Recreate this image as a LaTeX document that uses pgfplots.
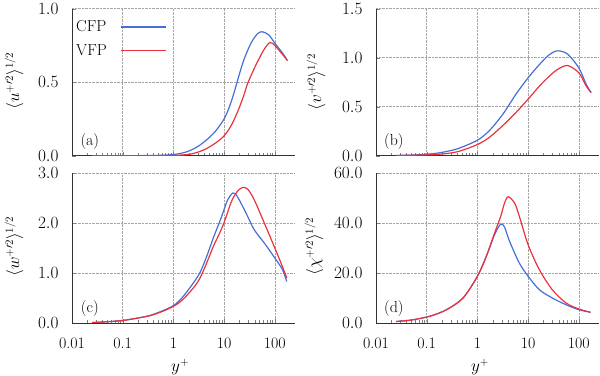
\documentclass[border=0pt]{standalone}
\usepackage{pgfplots}
\pgfplotsset{compat=1.18}
\definecolor{cfp}{RGB}{70,110,215}
\definecolor{vfp}{RGB}{235,50,60}
\newcommand{\fs}{\fontsize{16}{19}\selectfont}
\pgfplotsset{legend image code/.code={\draw[#1, line width=1.5pt] (0bp,0bp) -- (45bp,0bp);}}
\begin{document}
\begin{tikzpicture}
\useasboundingbox (0,0) rectangle (600bp,376bp);
% (a)
\begin{axis}[at={(72bp,220.3bp)}, anchor=south west,
  scale only axis, width=223bp, height=147bp,
  xmode=log, xmin=0.01, xmax=250,
  axis x line*=bottom, axis y line*=left, axis line style={black!80, line width=0.6pt},
  xmajorgrids, ymajorgrids, major grid style={densely dotted, gray!70, line width=0.5pt},
  xtick={0.01,0.1,1,10,100}, xticklabels={},
  major tick length=4bp, minor tick length=2.5bp,
  tick label style={font=\fs},
  y tick label style={/pgf/number format/fixed, /pgf/number format/fixed zerofill, /pgf/number format/precision=1, xshift=-10bp},
  ymin=0, ymax=1, ytick={0,0.5,1},
  ylabel={$\langle u^{+\prime 2}\rangle^{1/2}$},
  y label style={font=\fs, at={(rel axis cs:0,0.51)}, anchor=center, yshift=58bp},
  legend style={at={(rel axis cs:0.018,0.92)}, anchor=north west, draw=none, fill=none, font=\fs, inner sep=0pt, row sep=11bp, column sep=13bp, nodes={inner sep=0pt}},
  legend plot pos=right,
  legend cell align=left]
\addplot[cfp, line width=1.2pt, smooth, no markers] coordinates {(0.025,0) (0.1,0) (0.3,0.001) (0.6,0.003) (1,0.008) (1.5,0.018) (2.12,0.035) (3.1,0.065) (4.6,0.11) (6.5,0.16) (8,0.2) (10,0.25) (12,0.31) (14.5,0.39) (17.7,0.49) (20.6,0.57) (25,0.66) (33.8,0.765) (45.7,0.83) (57,0.843) (77,0.82) (100,0.765) (141,0.70) (177,0.647)};
\addlegendentry{CFP}
\addplot[vfp, line width=1.2pt, smooth, no markers] coordinates {(0.025,0) (0.3,0) (1,0.002) (1.5,0.005) (2.12,0.01) (3.1,0.025) (4.6,0.05) (7,0.09) (10,0.135) (13,0.19) (16,0.25) (20.6,0.34) (25,0.42) (29,0.49) (37.7,0.58) (45.7,0.64) (62,0.725) (80,0.77) (100,0.75) (141,0.69) (177,0.647)};
\addlegendentry{VFP}
\node[font=\fs] at (rel axis cs:0.08,0.095) {(a)};
\end{axis}
% (b)
\begin{axis}[at={(376bp,220.3bp)}, anchor=south west,
  scale only axis, width=223bp, height=147bp,
  xmode=log, xmin=0.01, xmax=250,
  axis x line*=bottom, axis y line*=left, axis line style={black!80, line width=0.6pt},
  xmajorgrids, ymajorgrids, major grid style={densely dotted, gray!70, line width=0.5pt},
  xtick={0.01,0.1,1,10,100}, xticklabels={},
  major tick length=4bp, minor tick length=2.5bp,
  tick label style={font=\fs},
  y tick label style={/pgf/number format/fixed, /pgf/number format/fixed zerofill, /pgf/number format/precision=1, xshift=-10bp},
  ymin=0, ymax=1.5, ytick={0,0.5,1,1.5},
  ylabel={$\langle v^{+\prime 2}\rangle^{1/2}$},
  y label style={font=\fs, at={(rel axis cs:0,0.5)}, anchor=center, yshift=60bp}]
\addplot[cfp, line width=1.2pt, smooth, no markers] coordinates {(0.025,0.003) (0.05,0.006) (0.1,0.015) (0.18,0.03) (0.4,0.07) (1,0.158) (1.75,0.26) (3.2,0.426) (5.8,0.63) (10,0.795) (16.7,0.93) (26,1.03) (38,1.07) (60,1.037) (100,0.896) (140,0.728) (175,0.644)};
\addplot[vfp, line width=1.2pt, smooth, no markers] coordinates {(0.025,0.002) (0.1,0.008) (0.18,0.015) (0.4,0.04) (1,0.114) (1.75,0.19) (3.2,0.31) (5.8,0.443) (10,0.577) (16.7,0.71) (26,0.81) (38,0.88) (60,0.92) (100,0.846) (140,0.71) (175,0.644)};
\node[font=\fs] at (rel axis cs:0.08,0.095) {(b)};
\end{axis}
% (c)
\begin{axis}[at={(72bp,53bp)}, anchor=south west,
  scale only axis, width=223bp, height=150bp,
  xmode=log, xmin=0.01, xmax=250,
  axis x line*=bottom, axis y line*=left, axis line style={black!80, line width=0.6pt},
  xmajorgrids, ymajorgrids, major grid style={densely dotted, gray!70, line width=0.5pt},
  xtick={0.01,0.1,1,10,100}, xticklabels={0.01,0.1,1,10,100},
  x tick label style={yshift=-11bp},
  major tick length=4bp, minor tick length=2.5bp,
  tick label style={font=\fs},
  y tick label style={/pgf/number format/fixed, /pgf/number format/fixed zerofill, /pgf/number format/precision=1, xshift=-10bp},
  ymin=0, ymax=3, ytick={0,1,2,3},
  xlabel={$y^+$},
  x label style={font=\fs, at={(rel axis cs:0.485,0)}, anchor=center, yshift=-44bp},
  ylabel={$\langle w^{+\prime 2}\rangle^{1/2}$},
  y label style={font=\fs, at={(rel axis cs:0,0.51)}, anchor=center, yshift=58bp}]
\addplot[cfp, line width=1.2pt, smooth, no markers] coordinates {(0.025,0.01) (0.05,0.025) (0.1,0.05) (0.2,0.10) (0.35,0.153) (0.6,0.24) (1,0.347) (1.5,0.51) (2.47,0.8) (3.35,1.01) (4.53,1.33) (6.12,1.7) (8,2.0) (10,2.27) (11.6,2.45) (14.8,2.6) (18.2,2.53) (27,2.2) (39,1.87) (62,1.6) (100,1.3) (141,1.07) (172,0.83)};
\addplot[vfp, line width=1.2pt, smooth, no markers] coordinates {(0.025,0.01) (0.05,0.025) (0.1,0.05) (0.2,0.10) (0.35,0.147) (0.6,0.23) (1,0.333) (1.5,0.46) (2.47,0.70) (3.35,0.9) (4.53,1.2) (6.12,1.53) (8,1.78) (10,2.01) (11.6,2.2) (14.2,2.45) (18.2,2.63) (23,2.71) (29,2.68) (39,2.47) (62,2.0) (100,1.5) (141,1.13) (172,0.9)};
\node[font=\fs] at (rel axis cs:0.08,0.095) {(c)};
\end{axis}
% (d)
\begin{axis}[at={(376bp,53bp)}, anchor=south west,
  scale only axis, width=223bp, height=150bp,
  xmode=log, xmin=0.01, xmax=250,
  axis x line*=bottom, axis y line*=left, axis line style={black!80, line width=0.6pt},
  xmajorgrids, ymajorgrids, major grid style={densely dotted, gray!70, line width=0.5pt},
  xtick={0.01,0.1,1,10,100}, xticklabels={0.01,0.1,1,10,100},
  x tick label style={yshift=-11bp},
  major tick length=4bp, minor tick length=2.5bp,
  tick label style={font=\fs},
  y tick label style={/pgf/number format/fixed, /pgf/number format/fixed zerofill, /pgf/number format/precision=1, xshift=-10bp},
  ymin=0, ymax=60, ytick={0,20,40,60},
  xlabel={$y^+$},
  x label style={font=\fs, at={(rel axis cs:0.466,0)}, anchor=center, yshift=-44bp},
  ylabel={$\langle \chi^{+\prime 2}\rangle^{1/2}$},
  y label style={font=\fs, at={(rel axis cs:0,0.51)}, anchor=center, yshift=62bp}]
\addplot[cfp, line width=1.2pt, smooth, no markers] coordinates {(0.025,0.6) (0.05,1.2) (0.115,2.7) (0.245,5.3) (0.52,10) (1,18.7) (1.5,26.7) (2.18,35.3) (2.86,39.5) (3.4,38.5) (4.3,32.7) (6.7,24) (10,18.7) (16.7,13.3) (30,10) (56,7.3) (100,5.3) (170,4.3)};
\addplot[vfp, line width=1.2pt, smooth, no markers] coordinates {(0.025,0.6) (0.05,1.2) (0.115,2.7) (0.245,5.3) (0.52,10) (1,18.7) (1.5,26.7) (2.18,36) (2.86,42.5) (3.43,48) (4.05,50.5) (5.4,48) (6.7,42.7) (10,31.3) (16.7,21.3) (30,13.3) (56,8) (100,5.6) (170,4.3)};
\node[font=\fs] at (rel axis cs:0.08,0.095) {(d)};
\end{axis}
\end{tikzpicture}
\end{document}
